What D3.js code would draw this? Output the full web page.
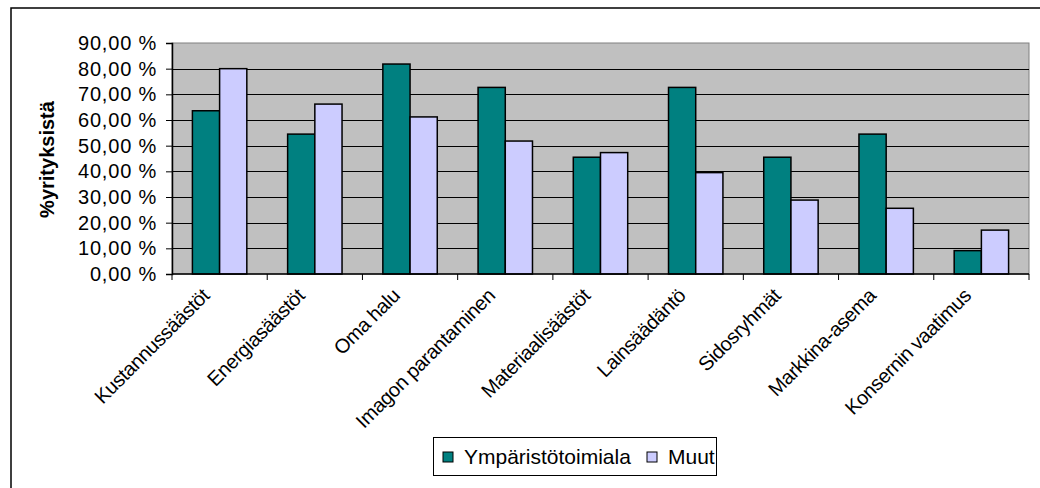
<!DOCTYPE html>
<html>
<head>
<meta charset="utf-8">
<script src="https://cdn.jsdelivr.net/npm/d3@7"></script>
<style>
body { margin: 0; background: #fff; }
svg { display: block; font-family: Arial, "Liberation Sans", sans-serif; }
</style>
</head>
<body>
<svg id="chart" width="1040" height="488"></svg>
<script>
var categories = ["Kustannussäästöt", "Energiasäästöt", "Oma halu", "Imagon parantaminen", "Materiaalisäästöt", "Lainsäädäntö", "Sidosryhmät", "Markkina-asema", "Konsernin vaatimus"];

var seriesNames = ["Ympäristötoimiala", "Muut"];

var ymparisto = [63.6, 54.5, 81.8, 72.7, 45.5, 72.7, 45.5, 54.5, 9.1];

var muut = [80.0, 66.2, 61.2, 51.8, 47.3, 39.5, 28.8, 25.6, 17.1];

var yTicks = [0, 10, 20, 30, 40, 50, 60, 70, 80, 90];

var colors = ["#008080", "#CCCCFF"];

var svg = d3.select('#chart');

var plotLeft = 172, plotRight = 1029, plotTop = 43, plotBottom = 274;

// outer chart frame (right and bottom edges fall outside the picture)
svg.append('rect')
    .attr('x', 11).attr('y', 8)
    .attr('width', 1100).attr('height', 600)
    .attr('fill', '#fff')
    .attr('stroke', '#000')
    .attr('stroke-width', 1.5);

var x0 = d3.scaleBand()
    .domain(categories)
    .range([plotLeft, plotRight])
    .paddingInner(1.5 / 3.5)
    .paddingOuter(0.75 / 3.5);

var x1 = d3.scaleBand()
    .domain(seriesNames)
    .range([0, x0.bandwidth()]);

var y = d3.scaleLinear()
    .domain([0, 90])
    .range([plotBottom, plotTop]);

// plot area
svg.append('rect')
    .attr('x', plotLeft).attr('y', plotTop)
    .attr('width', plotRight - plotLeft).attr('height', plotBottom - plotTop)
    .attr('fill', '#C0C0C0')
    .attr('stroke', '#808080')
    .attr('stroke-width', 1);

// gridlines
svg.append('g').selectAll('line')
    .data(yTicks.filter(function(d){ return d > 0 && d < 90; }))
    .join('line')
    .attr('x1', plotLeft).attr('x2', plotRight)
    .attr('y1', function(d){ return Math.round(y(d)) + 0.5; })
    .attr('y2', function(d){ return Math.round(y(d)) + 0.5; })
    .attr('stroke', '#000')
    .attr('stroke-width', 1);

// bars
var rows = categories.map(function(c, i){
    return { cat: c, values: [ymparisto[i], muut[i]] };
});

var groups = svg.append('g').selectAll('g')
    .data(rows)
    .join('g')
    .attr('transform', function(d){ return 'translate(' + x0(d.cat) + ',0)'; });

groups.selectAll('rect')
    .data(function(d){ return d.values.map(function(v, j){ return { name: seriesNames[j], value: v, j: j }; }); })
    .join('rect')
    .attr('x', function(d){ return x1(d.name); })
    .attr('y', function(d){ return y(d.value); })
    .attr('width', x1.bandwidth())
    .attr('height', function(d){ return plotBottom - y(d.value); })
    .attr('fill', function(d){ return colors[d.j]; })
    .attr('stroke', '#000')
    .attr('stroke-width', 1.5);

// y axis
var yAxis = d3.axisLeft(y)
    .tickValues(yTicks)
    .tickSize(6)
    .tickPadding(9)
    .tickFormat(function(d){ return d3.format('.2f')(d).replace('.', ',') + ' %'; });

var gy = svg.append('g')
    .attr('transform', 'translate(' + plotLeft + ',0)')
    .call(yAxis);
gy.select('.domain').attr('stroke', '#000').attr('stroke-width', 1.5);
gy.selectAll('.tick line').attr('stroke', '#000');
gy.selectAll('.tick text')
    .attr('font-size', 20)
    .attr('font-family', 'Arial, "Liberation Sans", sans-serif')
    .attr('letter-spacing', 0.8)
    .attr('fill', '#000');

// x axis with ticks at category boundaries
var boundaries = d3.range(categories.length + 1).map(function(i){
    return plotLeft + i * x0.step();
});

svg.append('line')
    .attr('x1', plotLeft).attr('x2', plotRight)
    .attr('y1', plotBottom).attr('y2', plotBottom)
    .attr('stroke', '#000')
    .attr('stroke-width', 1.5);

svg.append('g').selectAll('line')
    .data(boundaries)
    .join('line')
    .attr('x1', function(d){ return d; }).attr('x2', function(d){ return d; })
    .attr('y1', plotBottom).attr('y2', plotBottom + 6)
    .attr('stroke', '#000');

svg.append('g').selectAll('text')
    .data(categories)
    .join('text')
    .attr('transform', function(d){
        var cx = x0(d) + x0.bandwidth() / 2;
        return 'translate(' + (cx - 9) + ',' + (plotBottom + 23) + ') rotate(-45)';
    })
    .attr('text-anchor', 'end')
    .attr('font-size', 20)
    .attr('letter-spacing', -0.4)
    .attr('fill', '#000')
    .text(function(d){ return d; });

// y axis title
svg.append('text')
    .attr('transform', 'translate(54,' + ((plotTop + plotBottom) / 2 + 1) + ') rotate(-90)')
    .attr('text-anchor', 'middle')
    .attr('font-size', 20)
    .attr('font-weight', 'bold')
    .attr('fill', '#000')
    .text('%yrityksistä');

// legend
var legend = svg.append('g');

legend.append('rect')
    .attr('x', 433.5).attr('y', 437.5)
    .attr('width', 283).attr('height', 38)
    .attr('fill', '#fff')
    .attr('stroke', '#000')
    .attr('stroke-width', 1);

var legendX = [443, 647];

var items = legend.selectAll('g.item')
    .data(seriesNames)
    .join('g')
    .attr('class', 'item')
    .attr('transform', function(d, i){ return 'translate(' + legendX[i] + ',452)'; });

items.append('rect')
    .attr('width', 10).attr('height', 10)
    .attr('fill', function(d, i){ return colors[i]; })
    .attr('stroke', '#000')
    .attr('stroke-width', 1);

items.append('text')
    .attr('x', 21).attr('y', 12)
    .attr('font-size', 21)
    .attr('fill', '#000')
    .text(function(d){ return d; });
</script>
</body>
</html>
